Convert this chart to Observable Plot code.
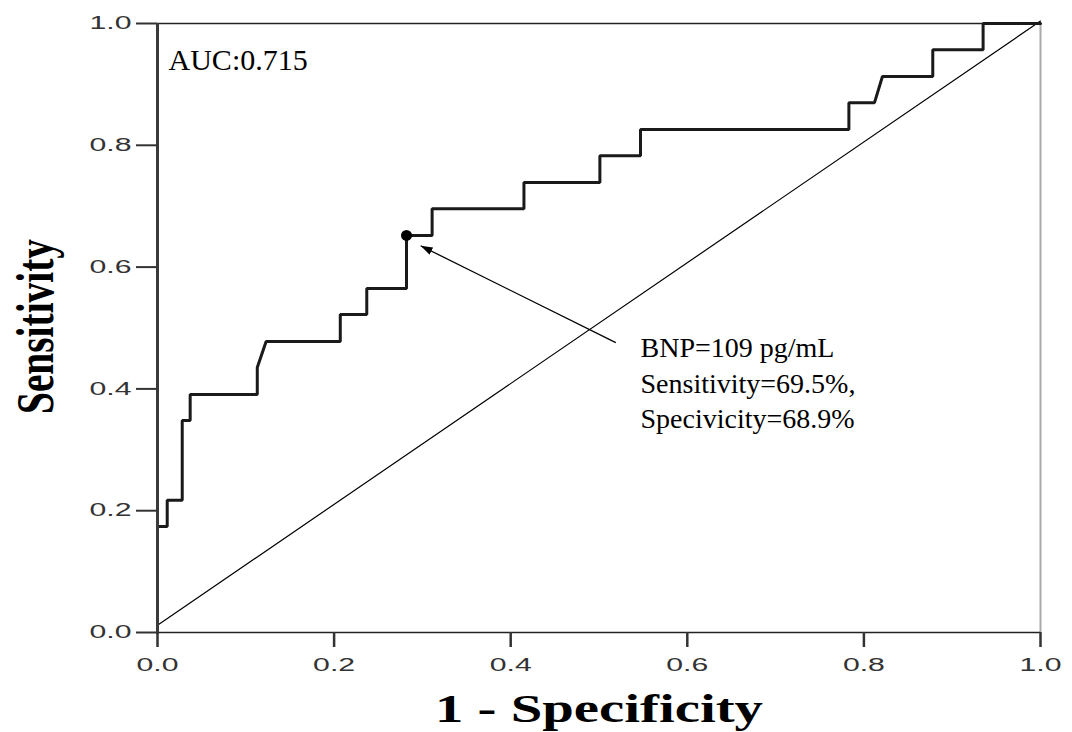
<!DOCTYPE html>
<html>
<head>
<meta charset="utf-8">
<script src="https://cdn.jsdelivr.net/npm/d3@7"></script>
<script src="https://cdn.jsdelivr.net/npm/@observablehq/plot@0.6"></script>
<style>body{margin:0;background:#fff}</style>
</head>
<body>
<div id="chart"></div>
<script>
// ROC curve vertices (1 - specificity, sensitivity)
const fpr = [0, 0, 0.011, 0.011, 0.028, 0.028, 0.037, 0.037, 0.113, 0.113, 0.123, 0.207, 0.207, 0.237, 0.237, 0.282, 0.282, 0.311, 0.311, 0.415, 0.415, 0.501, 0.501, 0.547, 0.547, 0.783, 0.783, 0.812, 0.821, 0.878, 0.878, 0.935, 0.935, 1];
const tpr = [0, 0.174, 0.174, 0.217, 0.217, 0.348, 0.348, 0.391, 0.391, 0.435, 0.478, 0.478, 0.522, 0.522, 0.565, 0.565, 0.652, 0.652, 0.696, 0.696, 0.739, 0.739, 0.783, 0.783, 0.826, 0.826, 0.870, 0.870, 0.913, 0.913, 0.957, 0.957, 1, 1];
// reference diagonal
const diagX = [0, 1];
const diagY = [0.012, 1.004];
// optimal cut-off point
const cutFpr = [0.282];
const cutTpr = [0.652];
// tick values
const tickValues = [0, 0.2, 0.4, 0.6, 0.8, 1.0];
// texts
const aucLabel = "AUC:0.715";
const noteLines = ["BNP=109 pg/mL", "Sensitivity=69.5%,", "Specivicity=68.9%"];
const xTitle = "1 - Specificity";
const yTitle = "Sensitivity";

const roc = fpr.map((x, i) => ({x, y: tpr[i]}));
const diag = diagX.map((x, i) => ({x, y: diagY[i]}));
const cut = cutFpr.map((x, i) => ({x, y: cutTpr[i]}));

const svg = Plot.plot({
  width: 1072,
  height: 732,
  marginLeft: 157,
  marginRight: 32,
  marginTop: 23,
  marginBottom: 100,
  x: {domain: [0, 1]},
  y: {domain: [0, 1]},
  style: {background: "white", fontFamily: "Liberation Sans", overflow: "visible"},
  marks: [
    Plot.ruleY([1], {stroke: "#222", strokeWidth: 1.5}),
    Plot.ruleX([1], {stroke: "#aaa", strokeWidth: 2}),
    Plot.line(diag, {x: "x", y: "y", stroke: "black", strokeWidth: 1.2}),
    Plot.line(roc, {x: "x", y: "y", stroke: "#1a1a1a", strokeWidth: 3, strokeLinejoin: "miter"}),
    Plot.ruleY([0], {stroke: "#222", strokeWidth: 1.5}),
    Plot.ruleX([0], {stroke: "#3a3a3a", strokeWidth: 3}),
    Plot.axisX({ticks: tickValues, tickFormat: d3.format(".1f"), tickSize: 15, tickPadding: 11, fontSize: 18, stroke: "#333", strokeWidth: 2.5, label: null}),
    Plot.axisY({ticks: tickValues, tickFormat: d3.format(".1f"), tickSize: 21, tickPadding: 5, fontSize: 18, stroke: "#333", strokeWidth: 2, label: null}),
    Plot.dot(cut, {x: "x", y: "y", r: 5.5, fill: "black"}),
    Plot.link([{x1: 0.519, y1: 0.476, x2: 0.298, y2: 0.635}], {x1: "x1", y1: "y1", x2: "x2", y2: "y2", stroke: "black", strokeWidth: 1.3}),
    Plot.text([aucLabel], {x: 0.0125, y: 0.923, text: d => d, textAnchor: "start", lineAnchor: "bottom", fontSize: 30, fontFamily: "Liberation Serif", fill: "black"}),
    Plot.text([noteLines.join("\n")], {x: 0.547, y: 0.335, text: d => d, textAnchor: "start", lineAnchor: "bottom", lineHeight: 1.27, fontSize: 28, fontFamily: "Liberation Serif", fill: "black"}),
    Plot.text([xTitle], {frameAnchor: "bottom", dy: 89, text: d => d, lineAnchor: "bottom", fontSize: 39, fontWeight: "bold", fontFamily: "Liberation Serif", fill: "black"}),
    Plot.text([yTitle], {frameAnchor: "left", dx: -105, dy: 86, rotate: -90, text: d => d, textAnchor: "start", lineAnchor: "bottom", fontSize: 52, fontWeight: "bold", fontFamily: "Liberation Serif", fill: "black"})
  ]
});

const s = d3.select(svg);
s.selectAll('g[aria-label="x-axis tick label"] text, g[aria-label="y-axis tick label"] text')
  .attr("textLength", 42).attr("lengthAdjust", "spacingAndGlyphs").attr("fill", "#333");
s.selectAll("text").filter(function() { return this.textContent === xTitle; })
  .attr("textLength", 328).attr("lengthAdjust", "spacingAndGlyphs");
s.selectAll("text").filter(function() { return this.textContent === yTitle; })
  .attr("textLength", 175).attr("lengthAdjust", "spacingAndGlyphs");

const defs = s.insert("defs", ":first-child");
defs.append("marker")
  .attr("id", "arrowhead")
  .attr("viewBox", "0 0 12 8")
  .attr("refX", 12).attr("refY", 4)
  .attr("markerWidth", 12).attr("markerHeight", 8)
  .attr("markerUnits", "userSpaceOnUse")
  .attr("orient", "auto")
  .append("path").attr("d", "M0,0L12,4L0,8Z").attr("fill", "black");
s.selectAll('g[aria-label="link"] path').attr("marker-end", "url(#arrowhead)");

document.getElementById("chart").appendChild(svg);
</script>
</body>
</html>
